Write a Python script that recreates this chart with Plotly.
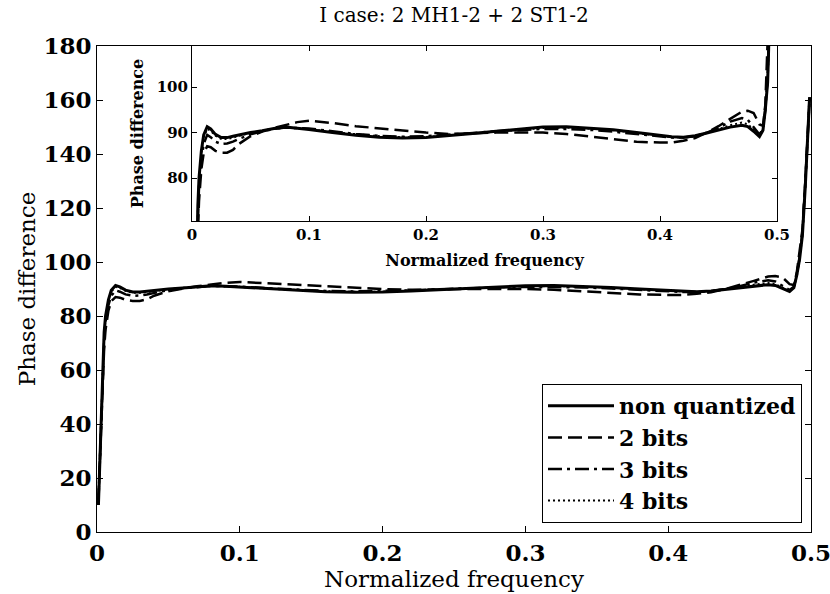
import plotly.graph_objects as go

# ---------------- data ----------------
freq = [0.001, 0.002, 0.003, 0.004, 0.005, 0.006, 0.008, 0.010, 0.013, 0.016,
        0.020, 0.025, 0.030, 0.035, 0.040, 0.050, 0.060, 0.070, 0.080, 0.090,
        0.100, 0.120, 0.140, 0.160, 0.180, 0.200, 0.220, 0.240, 0.260, 0.280,
        0.300, 0.320, 0.340, 0.360, 0.380, 0.400, 0.410, 0.420, 0.430, 0.440,
        0.450, 0.460, 0.470, 0.475, 0.480, 0.485, 0.488, 0.490, 0.492, 0.494,
        0.496, 0.498, 0.499]

non_quantized = [10, 25, 46, 62, 74, 80, 86, 89.5, 91.3, 90.8,
                 89.6, 88.9, 88.9, 89.2, 89.5, 90.0, 90.4, 90.9, 91.2, 91.0,
                 90.7, 90.0, 89.4, 89.0, 88.8, 88.9, 89.3, 89.8, 90.3, 90.8,
                 91.2, 91.3, 91.0, 90.6, 90.0, 89.4, 89.1, 89.0, 89.3, 89.9,
                 90.6, 91.2, 91.6, 91.3, 90.3, 89.1, 90.5, 95, 101, 110,
                 128, 152, 161]

bits2 = [12, 28, 44, 58, 68, 75, 82, 85.5, 87.0, 86.8,
         86.0, 85.6, 85.6, 86.2, 87.5, 89.2, 90.2, 91.0, 91.7, 92.3,
         92.6, 92.1, 91.4, 90.9, 90.4, 90.0, 89.7, 89.9, 90.0, 90.0,
         90.0, 89.7, 89.1, 88.5, 88.0, 87.8, 87.8, 88.2, 88.8, 90.0,
         91.4, 93.0, 94.6, 94.8, 94.3, 91.8, 91.5, 96, 104, 112,
         130, 153, 160]

bits3 = [11, 27, 45, 60, 71, 78, 84, 87.5, 89.5, 89.0,
         88.0, 87.5, 87.6, 88.0, 88.6, 89.6, 90.3, 90.8, 91.1, 91.0,
         90.9, 90.3, 89.7, 89.3, 89.1, 89.2, 89.5, 89.9, 90.3, 90.6,
         90.8, 90.8, 90.6, 90.2, 89.7, 89.1, 88.9, 88.9, 89.2, 90.0,
         91.0, 92.4, 93.2, 92.8, 91.2, 89.6, 90.8, 95, 102, 111,
         129, 152, 161]

bits4 = [10, 26, 45, 61, 73, 79, 85.5, 89, 90.8, 90.4,
         89.3, 88.6, 88.6, 88.9, 89.3, 89.9, 90.4, 90.8, 91.1, 91.0,
         90.8, 90.1, 89.6, 89.2, 89.0, 89.0, 89.4, 89.8, 90.3, 90.7,
         91.0, 91.1, 90.9, 90.5, 89.9, 89.3, 89.0, 88.9, 89.2, 89.9,
         90.8, 91.6, 92.2, 91.8, 90.7, 89.3, 90.6, 95, 101, 110,
         128, 152, 161]

series_names = ["non quantized", "2 bits", "3 bits", "4 bits"]
main_xticks = [0, 0.1, 0.2, 0.3, 0.4, 0.5]
xtick_labels = ["0", "0.1", "0.2", "0.3", "0.4", "0.5"]
main_yticks = [0, 20, 40, 60, 80, 100, 120, 140, 160, 180]
inset_yticks = [80, 90, 100]

# ---------------- styles ----------------
styles = [
    dict(color="black", width=3, dash="solid"),
    dict(color="black", width=2.5, dash="14px,6px"),
    dict(color="black", width=2.5, dash="14px,5px,3px,5px"),
    dict(color="black", width=2, dash="2px,3px"),
]
all_series = [non_quantized, bits2, bits3, bits4]

fig = go.Figure()
for i, (name, ys) in enumerate(zip(series_names, all_series)):
    fig.add_trace(go.Scatter(x=freq, y=ys, mode="lines", name=name,
                             line=styles[i], legendgroup=name,
                             xaxis="x", yaxis="y"))
for i, (name, ys) in enumerate(zip(series_names, all_series)):
    fig.add_trace(go.Scatter(x=freq, y=ys, mode="lines", name=name,
                             line=styles[i], legendgroup=name, showlegend=False,
                             xaxis="x2", yaxis="y2"))

W, H = 830, 594
L, R, T, B = 97, 811, 46, 532

def px(xp):
    return (xp - L) / (R - L)

def py(yp):
    return (B - yp) / (B - T)

tickfont_main = dict(family="DejaVu Serif", size=23, color="black", weight="bold")
tickfont_inset = dict(family="DejaVu Serif", size=15, color="black", weight="bold")
axis_common = dict(ticks="inside", tickcolor="black", mirror="ticks", showline=True,
                   linecolor="black", linewidth=1, showgrid=False, zeroline=False,
                   automargin=False, ticklabeloverflow="allow")

fig.update_layout(
    width=W, height=H,
    margin=dict(l=L, r=W - R, t=T, b=H - B, autoexpand=False),
    paper_bgcolor="white", plot_bgcolor="white",
    title=dict(text="I case: 2 MH1-2 + 2 ST1-2", x=0.5, xref="paper",
               xanchor="center", y=1 - 15 / H, yanchor="middle",
               font=dict(family="DejaVu Serif", size=20, color="black")),
    xaxis=dict(range=[0, 0.5], tickvals=main_xticks, ticktext=xtick_labels, ticklen=6,
               tickfont=tickfont_main,
               title=dict(text="Normalized frequency", standoff=6,
                          font=dict(family="DejaVu Serif", size=23, color="black")),
               **axis_common),
    yaxis=dict(range=[0, 180], tickvals=main_yticks, ticklen=6,
               tickfont=tickfont_main,
               title=dict(text="Phase difference", standoff=1,
                          font=dict(family="DejaVu Serif", size=23, color="black")),
               **axis_common),
    xaxis2=dict(domain=[px(192), px(777)], anchor="y2", range=[0, 0.5], tickvals=main_xticks,
                ticktext=xtick_labels, ticklen=5,
                tickfont=tickfont_inset,
                title=dict(text="Normalized frequency", standoff=11,
                           font=dict(family="DejaVu Serif", size=16, color="black", weight="bold")),
                **axis_common),
    yaxis2=dict(domain=[py(221), py(46)], anchor="x2", range=[70.6, 109], tickvals=inset_yticks,
                ticklen=5,
                tickfont=tickfont_inset,
                title=dict(text="Phase difference", standoff=9,
                           font=dict(family="DejaVu Serif", size=16, color="black", weight="bold")),
                **axis_common),
    legend=dict(x=px(802), xanchor="right", y=py(523), yanchor="bottom",
                bgcolor="white", bordercolor="black", borderwidth=1,
                font=dict(family="DejaVu Serif", size=22, color="black", weight="bold"),
                itemwidth=66, tracegroupgap=0),
    showlegend=True,
)

fig.write_html("out.html", config={"displayModeBar": False},
               post_script="document.body.style.margin='0';")
